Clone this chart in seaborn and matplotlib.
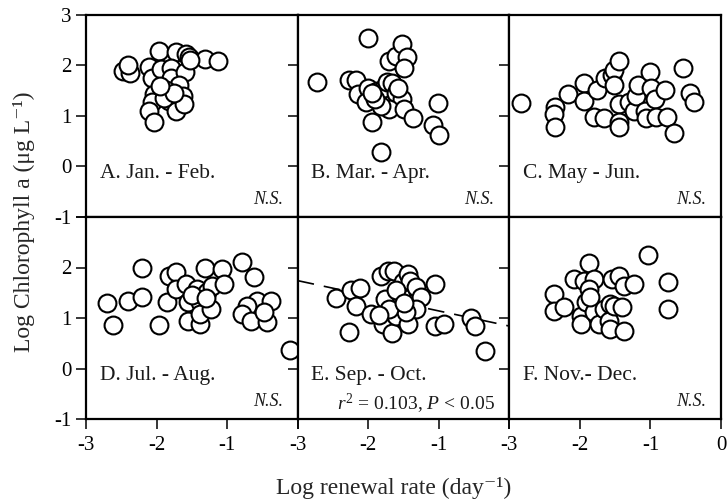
import matplotlib
matplotlib.use("Agg")
import matplotlib.pyplot as plt
import seaborn as sns
import pandas as pd
import numpy as np

# ---------------- data ----------------
a_x = [-2.48, -2.37, -2.41, -2.11, -2.07, -1.97, -1.93, -1.72, -1.79, -1.79, -1.58, -1.54, -1.59, -1.68,
       -2.03, -2.07, -2.11, -2.03, -1.82, -1.72, -1.63, -1.61, -1.86, -1.90, -1.32, -1.13, -1.52, -1.75, -1.95]
a_y = [1.90, 1.86, 2.00, 1.98, 1.76, 2.28, 1.94, 2.26, 1.96, 1.76, 2.22, 2.16, 1.88, 1.62,
       1.43, 1.27, 1.09, 0.89, 1.29, 1.09, 1.39, 1.23, 1.52, 1.36, 2.12, 2.08, 2.10, 1.45, 1.60]

b_x = [-2.72, -2.01, -2.27, -2.17, -2.14, -2.01, -2.03, -1.94, -1.82, -1.87, -1.77, -1.73, -1.70, -1.61, -1.52,
       -1.45, -1.49, -1.66, -1.61, -1.52, -1.70, -1.82, -1.49, -1.37, -1.01, -1.08, -0.99, -1.90, -1.95, -1.58]
b_y = [1.68, 2.55, 1.72, 1.72, 1.43, 1.56, 1.27, 0.89, 0.28, 1.49, 1.56, 1.68, 2.08, 2.18, 2.42,
       2.16, 1.96, 1.66, 1.46, 1.33, 1.13, 1.19, 1.13, 0.97, 1.25, 0.83, 0.63, 1.33, 1.45, 1.55]

c_x = [-2.83, -2.35, -2.37, -2.35, -2.17, -1.94, -1.94, -1.76, -1.80, -1.66, -1.65, -1.55, -1.51, -1.45, -1.52,
       -1.44, -1.45, -1.45, -1.30, -1.23, -1.20, -1.17, -1.01, -0.99, -1.08, -1.06, -0.94, -0.92, -0.80, -0.77,
       -0.66, -0.54, -0.44, -0.38]
c_y = [1.25, 1.17, 1.03, 0.79, 1.43, 1.66, 1.29, 1.52, 0.99, 0.97, 1.76, 1.82, 1.92, 2.08, 1.62,
       1.23, 0.89, 0.79, 1.27, 1.09, 1.39, 1.62, 1.88, 1.56, 1.09, 0.97, 1.33, 0.99, 1.52, 0.99,
       0.67, 1.96, 1.46, 1.27]

d_x = [-2.70, -2.62, -2.41, -2.20, -2.20, -1.96, -1.85, -1.82, -1.72, -1.72, -1.58, -1.56, -1.56, -1.42, -1.39,
       -1.39, -1.39, -1.32, -1.28, -1.23, -1.21, -1.07, -1.04, -0.79, -0.62, -0.58, -0.72, -0.79, -0.66, -0.44,
       -0.38, -0.48, -0.11, -1.50, -1.30]
d_y = [1.30, 0.86, 1.34, 1.42, 2.00, 0.86, 1.32, 1.84, 1.92, 1.58, 1.68, 1.32, 0.94, 1.58, 1.32,
       0.88, 1.08, 2.00, 1.52, 1.18, 1.64, 1.98, 1.68, 2.10, 1.82, 1.34, 1.24, 1.08, 0.94, 0.92,
       1.34, 1.12, 0.36, 1.45, 1.40]

e_x = [-2.46, -2.25, -2.11, -2.17, -2.27, -1.96, -1.82, -1.72, -1.63, -1.76, -1.79, -1.66, -1.61, -1.54, -1.51,
       -1.44, -1.41, -1.32, -1.25, -1.32, -1.44, -1.46, -1.06, -1.06, -0.92, -0.54, -0.49, -0.34, -1.70, -1.85,
       -1.60, -1.50]
e_y = [1.40, 1.56, 1.60, 1.24, 0.72, 1.08, 1.84, 1.94, 1.94, 1.38, 0.88, 0.70, 1.04, 1.44, 1.72,
       1.88, 1.74, 1.62, 1.42, 1.18, 0.88, 1.12, 1.68, 0.84, 0.88, 1.00, 0.84, 0.34, 1.18, 1.05,
       1.55, 1.30]

f_x = [-2.37, -2.37, -2.23, -2.08, -1.99, -1.99, -1.87, -1.94, -1.80, -1.87, -1.92, -1.80, -1.73, -1.66, -1.58,
       -1.59, -1.58, -1.55, -1.45, -1.38, -1.23, -1.52, -1.41, -1.38, -1.03, -0.75, -0.75, -1.85]
f_y = [1.48, 1.14, 1.22, 1.78, 1.04, 0.88, 2.08, 1.74, 1.78, 1.58, 1.32, 1.12, 0.88, 1.18, 1.28,
       0.94, 0.78, 1.78, 1.84, 1.64, 1.68, 1.24, 1.22, 0.74, 2.24, 1.72, 1.18, 1.42]

panel_titles = ["A. Jan. - Feb.", "B. Mar. - Apr.", "C. May - Jun.",
                "D. Jul. - Aug.", "E. Sep. - Oct.", "F. Nov.- Dec."]
panel_notes = ["N.S.", "N.S.", "N.S.", "N.S.", "", "N.S."]
stat_text_E = r"$r^2$ = 0.103, $P$ < 0.05"
fit_intercept_E = 0.84
fit_slope_E = -0.30

x_ticks = [-3, -2, -1, 0]
y_ticks = [-1, 0, 1, 2, 3]

xs = [a_x, b_x, c_x, d_x, e_x, f_x]
ys = [a_y, b_y, c_y, d_y, e_y, f_y]
frames = []
for i, (px, py) in enumerate(zip(xs, ys)):
    frames.append(pd.DataFrame({"x": px, "y": py, "panel": i}))
df = pd.concat(frames, ignore_index=True)

# ---------------- style ----------------
sns.set_theme(style="ticks")
plt.rcParams["font.family"] = ["Liberation Serif", "DejaVu Serif"]
plt.rcParams["mathtext.fontset"] = "custom"
plt.rcParams["mathtext.rm"] = "Liberation Serif"
plt.rcParams["mathtext.it"] = "Liberation Serif:italic"
plt.rcParams["axes.unicode_minus"] = False

fig, axes = plt.subplots(2, 3, figsize=(7.28, 5.0), dpi=100)
fig.subplots_adjust(left=86 / 728, right=721 / 728, top=1 - 15 / 500, bottom=1 - 419 / 500,
                    wspace=0, hspace=0)

for i, ax in enumerate(axes.flat):
    sub = df[df["panel"] == i]
    row, col = divmod(i, 3)
    if i == 4:
        xx = np.array([-3.0, 0.0])
        ax.plot(xx, fit_intercept_E + fit_slope_E * xx, color="black", lw=1.2,
                linestyle=(0, (10, 6)), zorder=1)
    sns.scatterplot(data=sub, x="x", y="y", ax=ax, s=165, facecolor="white",
                    edgecolor="black", linewidth=1.5, zorder=3, clip_on=False, legend=False)
    ax.set_xlim(-3, 0)
    ax.set_ylim(-1, 3)
    ax.set_xlabel("")
    ax.set_ylabel("")
    for sp in ax.spines.values():
        sp.set_linewidth(1.6)
        sp.set_color("black")
    ax.tick_params(axis="both", direction="out", length=7.5, width=1.1, colors="black",
                   labelsize=15, top=False, right=False)
    ax.tick_params(axis="x", pad=5)
    ax.tick_params(axis="y", pad=3)
    if row == 1:
        labels = [str(t) for t in x_ticks]
        if col < 2:
            labels[-1] = ""
        ax.set_xticks(x_ticks, labels=labels)
    else:
        ax.set_xticks(x_ticks, labels=[""] * len(x_ticks))
    if col == 0:
        labels = [str(t) for t in y_ticks]
        if row == 1:
            labels[-1] = ""
        ax.set_yticks(y_ticks, labels=labels)
    else:
        ax.set_yticks(y_ticks, labels=[""] * len(y_ticks))
    ax.text(0.065, 0.215, panel_titles[i], transform=ax.transAxes,
            ha="left", va="center", fontsize=15.5, color="#1a1a1a")
    if panel_notes[i]:
        ax.text(0.93, 0.085, panel_notes[i], transform=ax.transAxes, ha="right", va="center",
                fontsize=13, style="italic", color="#1a1a1a")
    if i == 4:
        ax.text(0.93, 0.075, stat_text_E, transform=ax.transAxes, ha="right", va="center",
                fontsize=14, color="#1a1a1a")

fig.text(24 / 728, 1 - 222 / 500, "Log Chlorophyll a (μg L\u207b\u00b9)", rotation=90,
         ha="center", va="center", fontsize=17)
fig.text(394 / 728, 6 / 500, "Log renewal rate (day\u207b\u00b9)", ha="center", va="baseline",
         fontsize=17)

fig.savefig("out.png", dpi=100)
